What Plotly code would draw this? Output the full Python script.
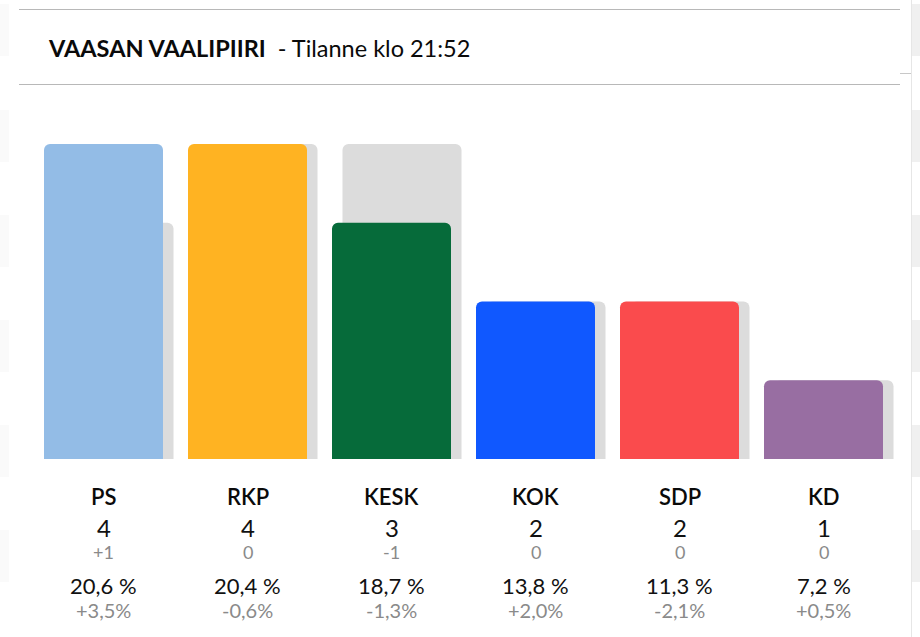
import plotly.graph_objects as go

parties = ["PS", "RKP", "KESK", "KOK", "SDP", "KD"]
seats = [4, 4, 3, 2, 2, 1]
prev_seats = [3, 4, 4, 2, 2, 1]
seat_change = ["+1", "0", "-1", "0", "0", "0"]
vote_share = ["20,6 %", "20,4 %", "18,7 %", "13,8 %", "11,3 %", "7,2 %"]
share_change = ["+3,5%", "-0,6%", "-1,3%", "+2,0%", "-2,1%", "+0,5%"]
colors = ["#93BCE6", "#FFB322", "#066B3A", "#1058FF", "#FA4B4D", "#986EA2"]

W, H = 920, 637
FONT = "Lato"
STEP = 144.0
UNIT = 78.75
BASE = 459
x_idx = list(range(len(parties)))
bar_w = 119 / STEP
shift = 10.5 / STEP

fig = go.Figure()
fig.add_bar(x=x_idx, y=prev_seats, width=bar_w, offset=-bar_w / 2 + shift,
            marker=dict(color="#DCDCDC", cornerradius=6, line_width=0), hoverinfo="skip")
fig.add_bar(x=x_idx, y=seats, width=bar_w, offset=-bar_w / 2,
            marker=dict(color=colors, cornerradius=6, line_width=0))


def py(p):
    return 1 - p / H


anns = [dict(x=46 / W, y=py(48), xref="paper", yref="paper", xanchor="left", yanchor="middle", showarrow=False,
             text="<b>VAASAN VAALIPIIRI</b>  - Tilanne klo 21:52", font=dict(family=FONT, size=23.5, color="#0a0a0a"))]
rows = [(parties, 496, 22, "#0a0a0a", 600), (seats, 527, 24, "#111111", 400),
        (seat_change, 552, 18, "#8a8a8a", 400), (vote_share, 585, 22, "#111111", 400),
        (share_change, 610, 20, "#8a8a8a", 400)]
for vals, yp, size, col, weight in rows:
    for i, v in zip(x_idx, vals):
        anns.append(dict(x=i, y=py(yp), xref="x", yref="paper", xanchor="center", yanchor="middle",
                         showarrow=False, text=str(v), font=dict(family=FONT, size=size, color=col, weight=weight)))

line = dict(color="#B8B8B8", width=1)
shapes = [dict(type="line", xref="paper", yref="paper", x0=19 / W, x1=900 / W, y0=py(y), y1=py(y), line=line)
          for y in (9.5, 84.5)]
# Faint page background showing at the screenshot's edges
stripe_tops = [4, 110, 215, 320, 425, 530]
for top in stripe_tops:
    shapes.append(dict(type="rect", xref="paper", yref="paper", x0=912 / W, x1=1, y0=py(top + 52), y1=py(top),
                       fillcolor="#F0F0F0", line_width=0, layer="below"))
    shapes.append(dict(type="rect", xref="paper", yref="paper", x0=0, x1=9 / W, y0=py(top + 52), y1=py(top),
                       fillcolor="#FAFAFA", line_width=0, layer="below"))
shapes.append(dict(type="line", xref="paper", yref="paper", x0=911.5 / W, x1=911.5 / W, y0=0, y1=1,
                   line=dict(color="#E6E6E6", width=1)))
shapes.append(dict(type="line", xref="paper", yref="paper", x0=900 / W, x1=911 / W, y0=py(73.5), y1=py(73.5),
                   line=dict(color="#C8C8C8", width=1)))

fig.update_layout(
    width=W, height=H, margin=dict(l=0, r=0, t=0, b=0), autosize=False,
    barmode="overlay", showlegend=False, paper_bgcolor="white", plot_bgcolor="rgba(0,0,0,0)",
    font=dict(family=FONT),
    xaxis=dict(range=[-103.5 / STEP, (W - 103.5) / STEP], visible=False, fixedrange=True),
    yaxis=dict(range=[-(H - BASE) / UNIT, BASE / UNIT], visible=False, fixedrange=True),
    annotations=anns, shapes=shapes,
)
fig.write_html("out.html", config={"displayModeBar": False}, post_script="document.body.style.margin='0';")
